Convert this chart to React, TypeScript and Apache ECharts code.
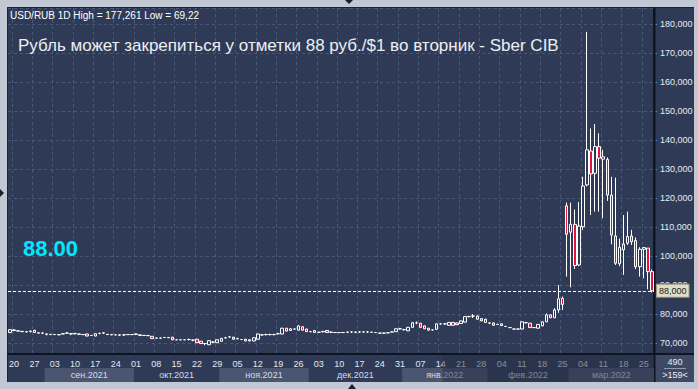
import React, { useEffect, useRef } from "react";
import * as echarts from "echarts";

const FONT = '"Liberation Sans", Arial, sans-serif';

// trading days (weekdays) shown on the chart
const FIRST_DAY = "2021-08-19";
const LAST_DAY = "2022-03-29";
const dates: string[] = [];
for (let t = Date.parse(FIRST_DAY + "T00:00:00Z"); t <= Date.parse(LAST_DAY + "T00:00:00Z"); t += 86400000) {
  const d = new Date(t);
  const wd = d.getUTCDay();
  if (wd !== 0 && wd !== 6) dates.push(d.toISOString().slice(0, 10));
}

// [open, close, low, high]
const ohlc: number[][] = [
  [73.6, 74.6, 73.5, 74.8], [74.5, 74.3, 74.0, 74.8], [74.2, 74.1, 74.0, 74.3], [74.0, 73.9, 73.8, 74.1],
  [73.9, 73.8, 73.7, 74.0], [74.1, 74.0, 73.6, 74.2], [74.4, 73.6, 73.5, 74.5], [73.5, 73.4, 73.3, 73.6],
  [73.4, 73.4, 73.1, 73.7], [73.1, 73.0, 72.6, 73.2], [73.0, 72.9, 72.7, 73.1], [72.9, 72.9, 72.8, 73.0],
  [72.9, 72.8, 72.7, 73.0], [73.1, 73.2, 73.0, 73.3], [73.4, 73.4, 73.1, 73.7], [73.2, 73.1, 72.7, 73.3],
  [73.3, 73.2, 72.9, 73.4], [73.1, 73.0, 72.9, 73.2], [72.9, 72.9, 72.8, 73.0], [73.1, 72.4, 72.3, 73.2],
  [72.6, 72.6, 72.4, 72.7], [72.4, 73.2, 72.3, 73.3], [73.3, 73.3, 73.0, 73.6], [73.5, 73.4, 73.1, 73.6],
  [73.0, 72.9, 72.8, 73.1], [72.9, 72.8, 72.7, 72.9], [72.8, 72.8, 72.7, 72.9], [72.8, 72.7, 72.4, 72.9],
  [72.8, 72.8, 72.5, 73.1], [72.9, 72.9, 72.8, 73.0], [72.9, 72.9, 72.8, 73.0], [73.1, 73.0, 72.7, 73.2],
  [72.6, 72.8, 72.5, 72.9], [72.6, 72.6, 72.5, 72.7], [72.6, 72.5, 72.4, 72.7], [72.3, 71.5, 71.4, 72.4],
  [71.7, 71.7, 71.6, 71.8], [71.7, 71.7, 71.5, 71.8], [71.9, 71.9, 71.8, 72.0], [71.9, 71.8, 71.7, 72.0],
  [72.0, 71.1, 71.0, 72.1], [71.1, 71.1, 71.0, 71.2], [71.1, 71.1, 71.0, 71.2], [71.1, 71.1, 71.0, 71.2],
  [71.2, 71.2, 70.9, 71.5], [71.0, 71.0, 70.6, 71.1], [71.3, 70.1, 70.0, 71.4], [70.6, 69.8, 69.7, 70.7],
  [69.8, 69.8, 69.22, 69.9], [69.4, 70.8, 69.3, 70.9], [70.3, 70.3, 70.0, 70.6], [70.1, 71.1, 70.0, 71.2],
  [70.6, 71.6, 70.5, 71.7], [71.8, 71.8, 71.5, 72.1], [72.1, 72.1, 71.8, 72.4], [72.0, 71.3, 71.2, 72.1],
  [71.5, 71.5, 71.2, 71.8], [71.2, 71.2, 71.1, 71.3], [71.3, 70.7, 70.6, 71.4], [71.1, 70.7, 70.6, 71.2],
  [70.7, 71.8, 70.6, 71.9], [71.3, 73.1, 71.2, 73.2], [72.8, 72.8, 72.5, 73.1], [72.9, 72.9, 72.6, 73.2],
  [72.9, 72.9, 72.6, 73.2], [72.9, 72.9, 72.6, 73.2], [73.2, 73.2, 72.9, 73.5], [73.1, 75.1, 73.0, 75.2],
  [75.1, 74.1, 74.0, 75.2], [74.9, 74.3, 74.2, 75.0], [74.8, 74.8, 74.7, 74.9], [74.4, 75.9, 74.3, 76.2],
  [75.6, 74.4, 74.3, 75.7], [74.8, 73.9, 73.8, 74.9], [73.9, 73.9, 73.8, 74.0], [74.3, 73.6, 73.5, 74.4],
  [73.7, 73.7, 73.6, 73.8], [74.0, 73.9, 73.6, 74.1], [74.3, 73.6, 73.5, 74.4], [73.7, 73.7, 73.4, 74.0],
  [73.6, 73.6, 73.5, 73.7], [73.6, 73.6, 73.5, 73.7], [73.6, 73.6, 73.5, 73.7], [73.7, 73.7, 73.4, 74.0],
  [73.8, 73.8, 73.5, 73.9], [73.7, 73.7, 73.4, 74.0], [73.8, 73.8, 73.5, 74.1], [73.8, 73.8, 73.7, 73.9],
  [73.8, 73.8, 73.5, 74.1], [73.7, 73.7, 73.6, 73.8], [73.6, 73.6, 73.5, 73.7], [73.4, 73.4, 73.1, 73.5],
  [73.4, 73.4, 73.1, 73.5], [73.5, 73.5, 73.4, 73.6], [73.8, 73.8, 73.7, 73.9], [73.9, 74.9, 73.8, 75.0],
  [74.9, 74.9, 74.6, 75.2], [74.6, 74.6, 74.3, 74.9], [74.2, 75.4, 74.1, 75.5], [75.4, 77.0, 75.3, 77.1],
  [76.9, 76.9, 76.5, 77.4], [76.8, 75.4, 75.3, 76.9], [75.9, 74.9, 74.8, 76.0], [75.1, 74.4, 74.3, 75.2],
  [74.5, 74.5, 74.4, 74.6], [74.7, 76.6, 74.6, 76.7], [76.6, 76.6, 76.3, 76.9], [76.6, 76.6, 76.3, 76.9],
  [76.1, 77.1, 76.0, 77.2], [77.1, 76.1, 76.0, 77.2], [76.9, 76.3, 76.2, 77.0], [76.7, 77.6, 76.6, 77.7],
  [77.2, 79.1, 77.1, 79.2], [79.1, 79.1, 78.8, 79.4], [79.3, 79.3, 78.6, 80.0], [79.3, 78.2, 78.1, 79.4],
  [78.4, 77.6, 77.5, 78.5], [78.2, 77.1, 77.0, 78.3], [76.9, 76.9, 76.5, 77.0], [76.9, 76.1, 76.0, 77.0],
  [76.4, 76.4, 76.3, 76.6], [76.6, 76.0, 75.9, 76.7], [75.7, 75.7, 75.6, 75.8], [75.3, 75.3, 75.2, 75.4],
  [74.8, 74.8, 74.7, 74.9], [74.8, 74.8, 74.7, 74.9], [74.8, 77.3, 74.7, 77.4], [77.0, 77.0, 76.7, 77.3],
  [76.8, 75.3, 75.2, 76.9], [75.3, 75.3, 75.2, 75.4], [75.1, 76.4, 75.0, 76.5], [75.9, 77.3, 75.8, 77.4],
  [77.3, 79.7, 77.2, 80.2], [79.7, 78.7, 78.6, 79.8], [78.7, 81.4, 78.6, 82.0], [81.4, 85.2, 80.4, 90.0],
  [85.4, 83.3, 81.4, 86.0], [117.3, 107.5, 92.9, 118.4], [108.2, 110.9, 89.2, 118.4], [110.9, 96.7, 95.5, 116.0],
  [96.9, 110.3, 96.5, 118.6], [110.1, 124.1, 109.0, 127.3], [124.5, 136.6, 124.0, 177.261], [136.2, 128.3, 114.1, 144.0],
  [128.5, 137.7, 115.3, 145.5], [137.7, 133.7, 115.3, 142.3], [133.4, 134.2, 113.0, 136.6], [133.3, 121.0, 119.0, 134.0],
  [121.0, 107.2, 104.0, 127.3], [106.9, 97.5, 96.9, 127.0], [97.3, 103.0, 96.5, 106.0], [102.1, 104.1, 93.5, 114.1],
  [104.4, 106.7, 103.8, 115.3], [106.9, 104.9, 103.8, 109.0], [105.3, 96.3, 95.5, 106.4], [96.3, 102.3, 92.9, 103.0],
  [102.3, 102.9, 92.3, 102.9], [102.7, 94.6, 88.5, 102.7], [94.6, 88.0, 87.4, 95.4],
];

const monthNames: Record<string, string> = {
  "2021-08": "",
  "2021-09": "сен.2021",
  "2021-10": "окт.2021",
  "2021-11": "ноя.2021",
  "2021-12": "дек.2021",
  "2022-01": "янв.2022",
  "2022-02": "фев.2022",
  "2022-03": "мар.2022",
};

const PRICE_LINE = 88;
const BIG_PRICE = "88.00";
const HEADER = "USD/RUB 1D High = 177,261 Low = 69,22";
const TITLE = "Рубль может закрепиться у отметки 88 руб./$1 во вторник - Sber CIB";
const TOTAL_BARS = "490";
const DIM_FROM = "2022-01-17";

const Y_MIN = 66.2;
const Y_MAX = 185.5;

const NAVY = "#2f3b56";
const GRIDC = "#4a5877";
const DARK = "#0f1520";

const isFriday = (s: string) => new Date(s + "T00:00:00Z").getUTCDay() === 5;
const fmt = (v: number) => v.toFixed(3).replace(".", ",");

// month groups built from the dates
const monthGroups: { key: string; start: number; end: number; label: string; shade: boolean }[] = [];
dates.forEach((d, i) => {
  const key = d.slice(0, 7);
  const last = monthGroups[monthGroups.length - 1];
  if (last && last.key === key) last.end = i;
  else monthGroups.push({ key, start: i, end: i, label: monthNames[key] || "", shade: monthGroups.length % 2 === 1 });
});

export default function App() {
  const ref = useRef<HTMLDivElement>(null);
  useEffect(() => {
    if (!ref.current) return;
    const chart = echarts.init(ref.current, undefined, { renderer: "svg" });
    const dimStart = dates.indexOf(DIM_FROM);
    const option: any = {
      animation: false,
      backgroundColor: "transparent",
      textStyle: { fontFamily: FONT },
      grid: { left: 8, right: 44, top: 8, bottom: 35, containLabel: false },
      xAxis: {
        type: "category",
        data: dates,
        boundaryGap: true,
        axisLine: { show: true, lineStyle: { color: DARK, width: 2 } },
        axisTick: { show: false },
        axisLabel: {
          interval: (_i: number, v: string) => isFriday(v),
          formatter: (v: string) => v.slice(8, 10),
          color: "#e1e7f0",
          fontSize: 9,
          fontFamily: FONT,
          margin: 5,
        },
        splitLine: {
          show: true,
          interval: (_i: number, v: string) => isFriday(v),
          lineStyle: { color: GRIDC, type: [3, 3], width: 1 },
        },
      },
      yAxis: {
        type: "value",
        position: "right",
        min: Y_MIN,
        max: Y_MAX,
        splitNumber: 12,
        axisLine: { show: true, lineStyle: { color: DARK, width: 2 } },
        axisTick: { show: true, length: 3, lineStyle: { color: "#5a86c8" } },
        axisLabel: {
          formatter: (v: number) => fmt(v),
          color: "#e6ecf4",
          fontSize: 9,
          fontFamily: FONT,
          margin: 6,
          showMinLabel: false,
          showMaxLabel: false,
        },
        splitLine: { show: true, lineStyle: { color: GRIDC, type: [3, 3], width: 1 } },
      },
      series: [
        {
          type: "candlestick",
          data: ohlc,
          barWidth: 3,
          itemStyle: {
            color: NAVY,
            color0: "#e3143c",
            borderColor: "#ffffff",
            borderColor0: "#ffffff",
            borderWidth: 1,
          },
          markLine: {
            silent: true,
            symbol: "none",
            z: 20,
            lineStyle: { color: "#ffffff", type: [3, 2], width: 1 },
            label: {
              show: true,
              position: "end",
              distance: 3,
              formatter: () => fmt(PRICE_LINE),
              color: "#1b1b1b",
              backgroundColor: "#dedec6",
              borderColor: "#9a9a88",
              borderWidth: 1,
              padding: [2, 2, 1, 2],
              fontSize: 9,
              fontFamily: FONT,
            },
            data: [{ yAxis: PRICE_LINE }],
          },
        },
        {
          type: "custom",
          clip: false,
          silent: true,
          z: 5,
          encode: { x: [0, 1], y: 2 },
          data: monthGroups.map((g) => [g.start, g.end, Y_MIN]),
          renderItem: (params: any, api: any) => {
            const g = monthGroups[params.dataIndex];
            const s = api.coord([api.value(0), Y_MIN]);
            const e = api.coord([api.value(1), Y_MIN]);
            const bw = api.size([1, 0])[0];
            const x0 = s[0] - bw / 2;
            const x1 = e[0] + bw / 2;
            const y0 = s[1] + 14;
            const children: any[] = [];
            if (g.shade)
              children.push({ type: "rect", shape: { x: x0, y: y0, width: x1 - x0, height: 14 }, style: { fill: "#4a5570" } });
            if (g.label)
              children.push({
                type: "text",
                style: {
                  text: g.label,
                  x: (x0 + x1) / 2,
                  y: y0 + 7,
                  align: "center",
                  verticalAlign: "middle",
                  fill: "#d5dce8",
                  font: `9px ${FONT}`,
                },
              });
            return { type: "group", children };
          },
        },
        {
          type: "custom",
          clip: false,
          silent: true,
          z: 10,
          encode: { x: [0, 1], y: 2 },
          data: [[dimStart, dates.length - 1, Y_MIN]],
          renderItem: (_params: any, api: any) => {
            const s = api.coord([api.value(0), Y_MIN]);
            const e = api.coord([api.value(1), Y_MIN]);
            const bw = api.size([1, 0])[0];
            const x0 = s[0] - bw / 2;
            const x1 = e[0] + bw / 2;
            return {
              type: "rect",
              shape: { x: x0, y: s[1] + 1, width: x1 - x0, height: 27 },
              style: { fill: "rgba(36,46,68,0.5)" },
            };
          },
        },
      ],
      graphic: [
        { type: "rect", z: 1, shape: { x: 655, y: 355, width: 39, height: 27 }, style: { fill: "#3e4965" } },
        { type: "line", z: 2, shape: { x1: 654.5, y1: 8, x2: 654.5, y2: 382 }, style: { stroke: DARK, lineWidth: 2 } },
        { type: "line", z: 2, shape: { x1: 654, y1: 354, x2: 694, y2: 354 }, style: { stroke: DARK, lineWidth: 2 } },
        { type: "line", z: 2, shape: { x1: 664, y1: 368.5, x2: 686, y2: 368.5 }, style: { stroke: "#8f9ab0", lineWidth: 1 } },
        { type: "text", z: 20, style: { text: TOTAL_BARS, x: 675, y: 362, align: "center", verticalAlign: "middle", fill: "#e8edf5", font: `9px ${FONT}` } },
        { type: "text", z: 20, style: { text: `>${dates.length}<`, x: 675, y: 375, align: "center", verticalAlign: "middle", fill: "#e8edf5", font: `9px ${FONT}` } },
        { type: "text", z: 20, style: { text: HEADER, x: 10, y: 15, verticalAlign: "middle", fill: "#ffffff", font: `10px ${FONT}` } },
        { type: "text", z: 20, style: { text: TITLE, x: 18, y: 45, verticalAlign: "middle", fill: "#eceff4", font: `17px ${FONT}` } },
        { type: "text", z: 20, style: { text: BIG_PRICE, x: 23, y: 248, verticalAlign: "middle", fill: "#00e8ff", font: `bold 22px ${FONT}` } },
        { type: "polygon", z: 20, shape: { points: [[345, 0], [353, 0], [349, 4]] }, style: { fill: "#1a1f2a" } },
        { type: "polygon", z: 20, shape: { points: [[0, 189], [0, 197], [4, 193]] }, style: { fill: "#1a1f2a" } },
        { type: "polygon", z: 20, shape: { points: [[348, 389], [356, 389], [352, 384]] }, style: { fill: "#1a1f2a" } },
      ],
    };
    chart.setOption(option);
    return () => chart.dispose();
  }, []);

  return (
    <div style={{ position: "absolute", left: 0, top: 0, width: 698, height: 389, background: "#c1c8d3", overflow: "hidden" }}>
      <div
        style={{
          position: "absolute",
          left: 7,
          top: 7,
          width: 687,
          height: 375,
          background: NAVY,
          borderLeft: "1px solid #1b2233",
          borderTop: "1px solid #1b2233",
          boxSizing: "border-box",
        }}
      />
      <div ref={ref} style={{ position: "absolute", left: 0, top: 0, width: 698, height: 389 }} />
    </div>
  );
}
